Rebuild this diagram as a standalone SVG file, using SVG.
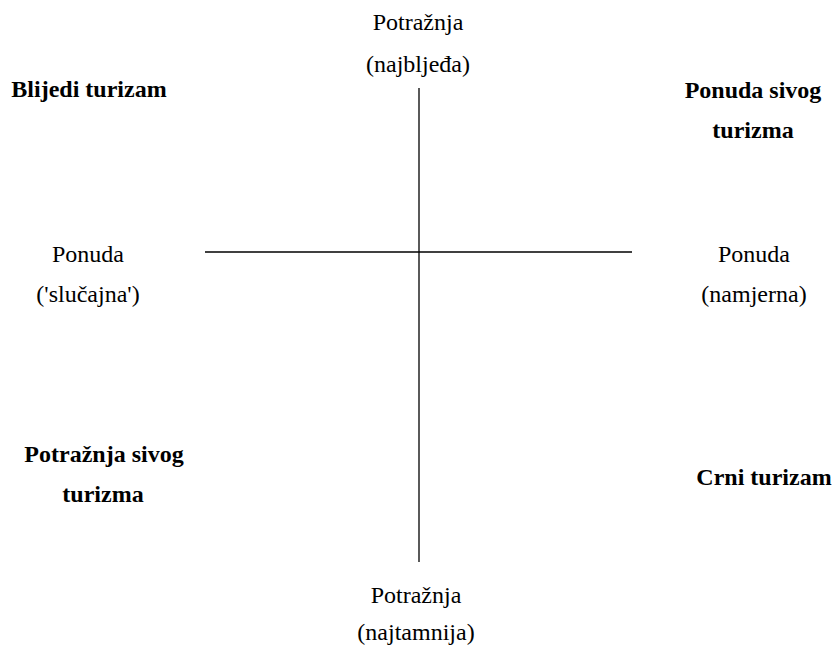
<svg xmlns="http://www.w3.org/2000/svg" width="835" height="652" viewBox="0 0 835 652">
<style>
.ax{stroke:#000;stroke-width:1.3;fill:none}
.t{font-family:"Liberation Serif","Times New Roman",serif;font-size:24px;fill:#000;text-anchor:middle}
.b{font-weight:bold}
</style>
<rect width="835" height="652" fill="#fff"/>
<g id="connectors">
<line class="ax" x1="419" y1="88" x2="419" y2="562"/>
<line class="ax" x1="205" y1="252" x2="632" y2="252"/>
</g>
<g id="top-label"><text class="t" x="418" y="30">Potražnja</text><text class="t" x="418" y="72">(najbljeđa)</text></g>
<g id="bottom-label"><text class="t" x="416" y="603">Potražnja</text><text class="t" x="416" y="640">(najtamnija)</text></g>
<g id="left-label"><text class="t" x="88" y="262">Ponuda</text><text class="t" x="88" y="302">('slučajna')</text></g>
<g id="right-label"><text class="t" x="754" y="262">Ponuda</text><text class="t" x="754" y="302">(namjerna)</text></g>
<g id="q-top-left"><text class="t b" x="89" y="97">Blijedi turizam</text></g>
<g id="q-top-right"><text class="t b" x="753" y="98">Ponuda sivog</text><text class="t b" x="753" y="138">turizma</text></g>
<g id="q-bottom-left"><text class="t b" x="104" y="462">Potražnja sivog</text><text class="t b" x="103" y="502">turizma</text></g>
<g id="q-bottom-right"><text class="t b" x="764" y="485">Crni turizam</text></g>
</svg>
